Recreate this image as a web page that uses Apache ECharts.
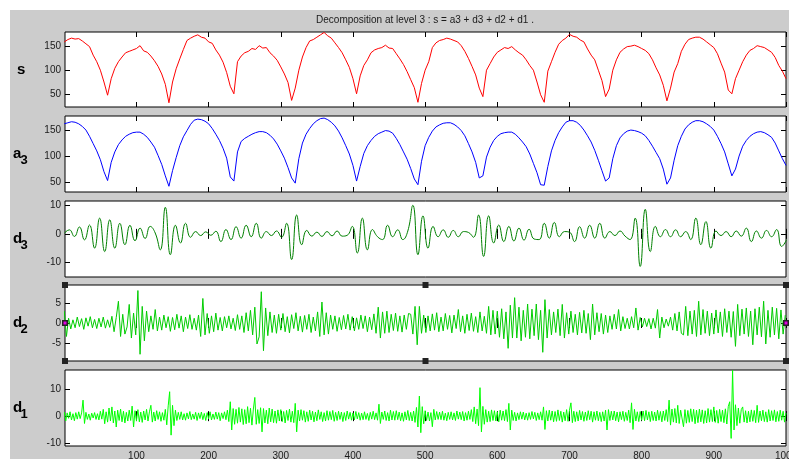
<!DOCTYPE html>
<html>
<head>
<meta charset="utf-8">
<script src="https://cdn.jsdelivr.net/npm/echarts@6/dist/echarts.min.js"></script>
<style>
  html, body { margin: 0; padding: 0; background: #fff; }
  #wrap { position: relative; width: 789px; height: 459px; overflow: hidden; }
  #figure { position: absolute; left: 10px; top: 10px; right: 0; bottom: 0; background: #cccccc; }
  #chart { position: absolute; left: 0; top: 0; width: 789px; height: 459px; }
</style>
</head>
<body>
<div id="wrap"><div id="figure"></div><div id="chart"></div></div>
<script>
// tick labels
const xTicks = [100, 200, 300, 400, 500, 600, 700, 800, 900, 1000]
const sTicks = [50, 100, 150]
const a3Ticks = [50, 100, 150]
const d3Ticks = [-10, 0, 10]
const d2Ticks = [-5, 0, 5]
const d1Ticks = [-10, 0, 10]

// signal s, one value every 5 samples
const sStep = 5
const sValues = [
  160, 165, 168, 166, 167, 162, 156, 150, 132, 118, 100, 75, 47,
  82, 104, 118, 128, 137, 140, 143, 146, 152, 141, 138, 130, 120, 108, 92, 70, 31,
  75, 103, 124, 144, 163, 168, 172, 175, 170, 168, 160, 157, 143, 132, 117, 95, 66, 50,
  118, 130, 137, 140, 146, 144, 152, 147, 148, 137, 130, 121, 107, 92, 74, 36, 62,
  100, 128, 148, 162, 165, 170, 175, 180, 173, 168, 158, 148, 137, 122, 106, 82, 50,
  88, 110, 122, 137, 143, 146, 148, 153, 147, 146, 135, 124, 112, 97, 80, 63, 32,
  72, 100, 118, 148, 158, 163, 165, 168, 166, 163, 160, 152, 140, 125, 108, 90, 62, 44,
  100, 114, 128, 138, 143, 148, 146, 150, 143, 137, 132, 122, 110, 100, 75, 48, 32,
  98, 118, 138, 155, 163, 168, 176, 172, 170, 164, 160, 145, 132, 122, 100, 78, 44, 60,
  100, 122, 138, 145, 150, 151, 153, 150, 146, 142, 135, 122, 105, 90, 68, 35, 62,
  96, 114, 140, 155, 165, 168, 170, 170, 166, 160, 154, 148, 135, 115, 96, 58, 50, 82,
  100, 118, 132, 142, 146, 152, 150, 148, 143, 138, 127, 110, 98, 82
]

// approximation a3, one value every 5 samples
const a3Step = 5
const a3Values = [
  162, 164, 166, 165, 162, 157, 150, 138, 124, 110, 93, 70, 53,
  88, 108, 122, 131, 138, 142, 145, 146, 146, 142, 136, 127, 117, 101, 84, 62, 42,
  72, 97, 120, 137, 149, 161, 169, 171, 170, 167, 162, 153, 142, 130, 115, 96, 60, 52,
  108, 128, 134, 138, 142, 145, 147, 147, 145, 140, 133, 123, 110, 96, 78, 58, 48,
  95, 125, 142, 153, 162, 168, 172, 173, 170, 165, 158, 148, 135, 120, 104, 82, 52,
  80, 105, 120, 130, 138, 143, 146, 149, 148, 144, 134, 122, 108, 94, 76, 56, 45,
  90, 120, 136, 148, 156, 160, 163, 164, 164, 161, 156, 149, 139, 124, 108, 88, 58, 62,
  98, 117, 130, 138, 143, 145, 146, 146, 142, 135, 127, 118, 104, 86, 68, 45, 44,
  80, 110, 130, 145, 156, 165, 168, 168, 165, 159, 150, 139, 127, 111, 92, 72, 52, 58,
  95, 120, 135, 143, 148, 150, 149, 147, 144, 139, 130, 119, 107, 95, 75, 46, 58,
  92, 120, 138, 152, 160, 165, 168, 168, 166, 162, 157, 150, 138, 124, 108, 85, 62, 75,
  100, 119, 130, 138, 143, 146, 147, 145, 141, 136, 125, 110, 95, 82
]

// detail d3, one value every 7 samples
const d3Step = 7
const d3Values = [
  0.2, 1.4, -0.9, 2.4, -2.1, 3.1, -5, 5.5, -6.2, 4.9,
  -5, 3.7, -3.8, 3, -2.4, 2, -1.6, 2.6, 0.3, -5.6,
  9.3, -7.3, 3, -3.2, 3.7, -1.2, 0.8, -0.6, 0.7, -0.5,
  0.9, -2.7, 1.5, -2, 2.5, -1.5, 3, -1, 3.7, -1.5,
  0.8, -0.6, 1, -1.2, 3.7, -9, 6.6, -3.8, 1.2, -0.8,
  0.6, -0.9, 0.8, -0.7, 1, -0.8, -0.5, 2.6, -6.7, 5.5,
  -5.6, 1.5, -1, -2, 3, -1, 1.4, -2, 1, 10,
  -7.3, 6.3, -5, 2.6, -1, 1.4, -1.2, 1.2, -1, 0.8,
  0.5, -1.2, 6.6, -7.9, 6.3, -3.2, 3.1, -2.7, 2.6, -2.5,
  2, -2.2, 1.6, -1.8, -2, 3.7, -1.5, 4, -1, 0.8,
  0.6, -2.7, 2.5, -1.5, 3, -1.5, 3.7, -1.5, 0.8, -0.6,
  1, -0.8, -2, 5.5, -11.4, 8.6, -6.2, 2.6, -1, 1.5,
  -1, 1.4, -1, 0.8, -2, 5.5, -3.8, 4.3, -5, 1,
  -0.6, 0.8, -1, 1, -0.8, 2, -2.7, 1, -1.5, 1.2,
  -1, 1.5, -4.4, -2
]

// detail d2, one value every 3 samples
const d2Step = 3
const d2Values = [
  3, -3.4, 1.2, -1.5, 0.8, -1.2, 1.5, -0.9, 1.1, -1.6,
  1.3, -0.8, 1.6, -1.2, 0.9, -1.4, 1.2, -1, 1.5, -1.3,
  0.8, -1.1, 1.7, -2.2, 1.4, 5.5, -3.4, 2.2, -2.8, -1,
  4.7, -3.8, 2.5, -3, 8.2, -7.9, 4.2, -4.5, 3, -2.2,
  1.8, -1.6, 3.4, -2, 1.5, -1.8, 2, -1.2, 1.6, -2.1,
  1.4, -1.7, 2.2, -1.3, 1.8, -2.2, 1.5, -1.4, 2.1, -1.6,
  1.2, -1.8, 2, -3.4, 6.2, -3, 2.4, -2.6, 1.8, -2.2,
  2.5, -1.8, 1.4, -2, 1.6, -1.2, 1.8, -1.5, 1.2, -1.9,
  2.1, -1.6, 1.8, -2.4, 2.6, -2, 3.2, -3, 4, -5.3,
  -3.5, 7.9, -7, 3.8, -3.2, 2.8, -2.4, 2, -2.6, 2.2,
  -1.8, 2.4, -2.2, 1.6, -2.5, 2.1, -1.4, 2.6, -2, 1.7,
  -2.3, 1.9, -1.6, 2.2, -2.4, 1.5, -2, 2.8, -3.4, 5.3,
  -3, 2.6, -2.8, 2, -1.6, 1.8, -2.1, 1.4, -1.7, 1.9,
  -1.5, 2.2, -1.8, 1.6, -2, 1.3, -1.6, 2, -1.4, 1.8,
  -2.2, 1.5, -1.7, 2.3, -2.6, 4, -3.8, 2.8, -2.6, 3,
  -2.4, 2.2, -1.9, 2.5, -2.1, 1.8, -2.3, 2, -1.6, 2.4,
  2.2, -2.8, 4.2, -5.5, 4.2, -2.6, 2, -2.4, 1.8, -2,
  2.3, -1.8, 2.6, -2.2, 1.5, -2, 2.4, -1.6, 1.9, -2.5,
  2, -1.4, 3.4, -2.2, 1.8, -2.6, 2.2, -1.9, 2.5, -2.1,
  1.6, -2.4, 2.8, -2, 1.7, -2.6, 4.2, -3, 3.2, -2.8,
  3, -3.6, 3.6, -4, 2.8, -6.4, 4.5, -3.8, 6.4, -3.8,
  4, -4.5, 3.2, -3.6, 4.8, -4, 3.5, -3.2, 4.8, -4.2,
  3.2, -7.4, 5.9, -3.8, 3.4, -3, 2.8, -2.4, 3.5, -3.2,
  4.7, -3.8, 2.6, -2.8, 3, -2.4, 2.2, -3, 2.7, -2.5,
  3.2, -2.6, 2.4, -4.2, 4.8, -3, 2.6, -2.2, 2.4, -2.8,
  2, -2.4, 1.8, -1.6, 2.2, -1.5, 3.4, -2, 1.6, -1.4,
  1.2, -1.5, 1.6, -1.2, 3.8, -1.8, 1.4, -1, 1.2, -0.9,
  1.1, -1.5, 1.2, -1.3, 3.4, -3.8, 1.5, -1.2, 1, -0.8,
  1.5, -1.8, 2.4, -2, 2.8, -2.6, -3, 4.2, -3.2, 3,
  -2.8, 3.2, -3.4, 5.5, -3, 3.4, -2.6, 3, -3.2, 2.5,
  -2.8, 3.3, -2.5, 2.8, -3.4, 3.6, -2.4, 3, -3.6, 2.9,
  -5.9, 4.7, -3.2, 3.5, -2.8, 3.8, -3.4, 3, -5.5, 3.6,
  -3, 4, -3.5, 5.5, -5.3, 3.2, -3.6, 4, -3, 3.7,
  -4, 3.3, -2.8, 2
]

// detail d1, one value every 2 samples
const d1Step = 2
const d1Values = [
  1.5, -1.8, 1.2, -0.8, 1.6, -1.4, 0.9, -1.7, 1.3, -1.1,
  1.6, -0.9, 1.2, 5.9, -2.7, 1.4, -1.2, 0.8, -1.5, 1.1,
  -0.7, 1.3, -1.2, 0.9, -1.4, 1.8, -1.1, 2.5, -2.8, 1.6,
  -2.2, 3, -1.8, 3.4, -2.5, 1.9, -4, 2.2, -1.6, 2.6,
  -2.1, 1.8, -2.5, 1.4, -1.8, 2.2, -1.6, 3.7, -4, 2,
  -1.7, 2.4, -2.1, 1.5, -2.3, 1.9, -1.4, 2.5, -1.8, 1.6,
  4, -2.2, 1.5, -1.8, 2, -1.2, 1.6, -1.9, 1.3, -1.5,
  2.5, -3.2, 3.8, 9, -7, 4, -3.5, 2.2, -1.6, 1.4,
  -1.2, 1.6, -1.4, 0.9, -1.5, 1.2, -1, 1.7, -1.3, 0.8,
  -1.1, 1.4, -1.6, 1.2, -0.9, 1.5, -1.3, 1, -1.6, 1.3,
  -1, 1.6, -1.4, 0.8, -1.2, 1.5, -1.1, 1.3, -1.7, 1.2,
  -0.9, 1.6, -1.3, 2.2, -2, 5.3, -5.1, 2.8, -3, 2.5,
  -2.6, 3.2, -2.2, 2.7, -3.1, 2.4, -2.8, 3.5, -2.4, 2.9,
  -3.3, 2.6, 6.9, -3, 2.4, -2.7, 3.1, -5.8, 2.8, -2.5,
  2.2, -2.8, 3, -2.1, 2.6, -2.4, 1.9, -2.6, 2.3, -1.8,
  2.4, -2, 1.7, -2.5, 2.1, -1.6, 2.6, -2.2, 1.8, -2.4,
  4.7, -5.8, 2.2, -1.8, 2.4, -1.5, 2, -2.2, 1.6, -1.9,
  2.2, -1.4, 1.8, -2.1, 1.5, -1.7, 2.3, -1.2, 1.6, -2,
  1.3, -1.8, 2, -1.5, 1.7, -1.3, 2.1, -1.9, 1.4, -1.6,
  1.8, -1.2, 1.5, -2, 1.3, -1.6, 1.9, -1.1, 1.4, -1.5,
  1.2, -1.4, 1.7, -1, 1.3, -1.5, 1.1, -1.3, 1.6, -1.2,
  1, -1.6, 1.4, -1.1, 1.8, -1.3, 1.2, -1.5, 4.4, -2.7,
  1.5, -1.2, 1.9, -1.6, 1.3, -1.8, 2.2, -1.4, 1.7, -1.5,
  2, -1.3, 1.5, -1.7, 1.2, -1.9, 1.6, -1.4, 2.1, -1.6,
  1.4, -1.8, 1.9, -2.3, 3.2, -4, 7.4, -6.1, 3.5, -2.8,
  2, -1.6, 1.5, -1.8, 1.3, -3.9, 2.5, -1.4, 1.7, -1.2,
  1.5, -1.3, 1.8, -1.5, 1.1, -1.7, 1.4, -1.2, 1.6, -1.4,
  1.2, -1.6, 1.9, -1.1, 1.5, -1.3, 1.7, -1.8, 1.3, -1.5,
  1.8, -1.2, 2.4, -2, 3.4, -2.8, 2.6, -3.5, 10.5, -5.8,
  3.6, -3, 2.4, -2.2, 1.8, -2, 2.3, -1.6, 2, -1.8,
  1.6, -2.1, 2.2, -1.5, 1.9, -1.7, 2.4, -2, 4.7, -5.1,
  2.2, -1.6, 1.4, -1.8, 1.2, -1.3, 1.6, -1.1, 1.5, -1.4,
  1.1, -1.5, 1.3, -1.2, 1.7, -1, 1.4, -1.6, 1.2, -1.3,
  1.6, -1.5, 3.4, -4.9, 2, -1.8, 2.2, -1.5, 1.9, -2.1,
  1.7, -1.9, 2.3, -1.6, 1.8, -2.2, 1.5, -1.7, 2.4, -1.9,
  2.2, 4.9, -2.4, 1.8, -2, 1.6, -1.8, 2.1, -1.4, 1.7,
  -1.9, 1.5, -1.6, 2, -1.3, 1.8, -2.2, 1.6, -1.5, 1.9,
  -1.7, 1.4, -2, 1.6, -1.8, 2.2, -5.1, 2.4, -1.6, 1.8,
  -1.4, 1.9, -1.7, 1.5, -2.1, 1.6, -1.3, 1.8, -1.9, 1.4,
  -1.6, 2.2, -2.4, 4.9, -4.9, 2.5, -1.8, 1.6, -2, 1.7,
  -1.5, 1.9, -1.7, 2.1, -1.4, 1.6, -2, 1.8, -1.6, 1.5,
  -1.8, 2.2, -1.5, 1.7, -2.1, 1.9, -1.6, 2.4, -2, 5.9,
  -3.3, 2.6, -2.2, 2.8, -2.5, 4, -2.7, 2.2, 2.5, -3.9,
  2.4, -2.6, 2.1, -2.3, 2.7, -2, 2.5, -2.8, 2.2, -2.4,
  2.6, -2.1, 2.3, -2.7, 2, -2.5, 2.8, -2.2, 2.4, -2,
  3.4, -2.3, 2.1, -2.6, 2.5, -2, 2.2, -2.4, 2.7, -2.9,
  3.5, 5.3, -8.2, 16.9, -5.1, 4.2, -3.5, 3, -2.6, 2.4,
  3.4, -2.2, 2, -2.5, 1.8, -2.1, 2.3, -1.9, 2.1, -2.4,
  4, -2.3, 1.9, -1.7, 2.2, -2, 1.6, -2.2, 2.4, -1.8,
  2, -1.6, 2.3, -2.1, 1.7, -1.9, 2.2, -1.5, 1.8, -2.2,
  1.2
]

const font = 'Liberation Sans, Arial, sans-serif'
const toPoints = (values, step) => values.map((v, i) => [i * step, v])

const panels = [
  { main: 's', sub: '', values: sValues, step: sStep, color: '#ff0000', top: 32, height: 75, min: 22, max: 181, ticks: sTicks, smooth: false },
  { main: 'a', sub: '3', values: a3Values, step: a3Step, color: '#0000ff', top: 116, height: 76, min: 31, max: 177, ticks: a3Ticks, smooth: false },
  { main: 'd', sub: '3', values: d3Values, step: d3Step, color: '#008000', top: 201, height: 76, min: -15.1, max: 11.5, ticks: d3Ticks, smooth: 0.5 },
  { main: 'd', sub: '2', values: d2Values, step: d2Step, color: '#00cc00', top: 285, height: 76, min: -9.6, max: 9.6, ticks: d2Ticks, smooth: false },
  { main: 'd', sub: '1', values: d1Values, step: d1Step, color: '#00ff00', top: 370, height: 76, min: -11, max: 17, ticks: d1Ticks, smooth: false }
]

const tick = (values) => ({
  show: true,
  inside: true,
  length: 5,
  customValues: values,
  lineStyle: { color: '#000', width: 1 }
})

const grids = []
const xAxes = []
const yAxes = []
const series = []
const graphics = []

panels.forEach((p, k) => {
  const last = k === panels.length - 1
  grids.push({
    left: 65, top: p.top, width: 721, height: p.height,
    containLabel: false, outerBoundsMode: 'none',
    show: true, backgroundColor: '#fff', borderColor: '#000', borderWidth: 1
  })
  // bottom + top x axes
  xAxes.push({
    type: 'value', gridIndex: k, min: 1, max: 1000, position: 'bottom',
    axisLine: { show: false }, splitLine: { show: false },
    axisTick: tick(xTicks),
    axisLabel: {
      show: last, customValues: xTicks, margin: 5,
      formatter: (v) => String(v),
      color: '#1a1a1a', fontSize: 10, fontFamily: font
    }
  })
  xAxes.push({
    type: 'value', gridIndex: k, min: 1, max: 1000, position: 'top',
    axisLine: { show: false }, splitLine: { show: false },
    axisTick: tick(xTicks), axisLabel: { show: false }
  })
  // left + right y axes
  yAxes.push({
    type: 'value', gridIndex: k, min: p.min, max: p.max, position: 'left',
    axisLine: { show: false }, splitLine: { show: false },
    axisTick: tick(p.ticks),
    axisLabel: {
      customValues: p.ticks, margin: 4,
      formatter: (v) => String(v),
      color: '#1a1a1a', fontSize: 10, fontFamily: font
    }
  })
  yAxes.push({
    type: 'value', gridIndex: k, min: p.min, max: p.max, position: 'right',
    axisLine: { show: false }, splitLine: { show: false },
    axisTick: tick(p.ticks), axisLabel: { show: false }
  })
  series.push({
    type: 'line',
    xAxisIndex: 2 * k,
    yAxisIndex: 2 * k,
    data: toPoints(p.values, p.step),
    symbol: 'none',
    smooth: p.smooth,
    clip: true,
    silent: true,
    lineStyle: { color: p.color, width: 1 },
    itemStyle: { color: p.color }
  })
  // row label, e.g. a with subscript 3
  const cy = p.top + p.height / 2
  graphics.push({
    type: 'text', x: p.sub ? 13 : 17, y: cy,
    style: { text: p.main, font: 'bold 15px ' + font, fill: '#000', verticalAlign: 'middle' }
  })
  if (p.sub) {
    graphics.push({
      type: 'text', x: 20.5, y: cy + 6,
      style: { text: p.sub, font: 'bold 13px ' + font, fill: '#000', verticalAlign: 'middle' }
    })
  }
})

// title
graphics.push({
  type: 'text', x: 425, y: 20,
  style: {
    text: 'Decomposition at level 3 : s = a3 + d3 + d2 + d1 .',
    font: '10px ' + font, fill: '#1a1a1a', align: 'center', verticalAlign: 'middle'
  }
})

// selection handles around the d2 axes
const sel = grids[3]
const hx = [sel.left, sel.left + sel.width / 2, sel.left + sel.width]
const hy = [sel.top, sel.top + sel.height / 2, sel.top + sel.height]
hy.forEach((y, r) => {
  hx.forEach((x, c) => {
    if (r === 1 && c === 1) return
    graphics.push({
      type: 'rect', shape: { x: x - 3, y: y - 3, width: 6, height: 6 },
      style: { fill: '#222' }, z: 100
    })
    if (r === 1) {
      graphics.push({
        type: 'rect', shape: { x: x - 1.5, y: y - 1.5, width: 3, height: 3 },
        style: { fill: '#e000e0' }, z: 101
      })
    }
  })
})

const chart = echarts.init(document.getElementById('chart'))
chart.setOption({
  animation: false,
  grid: grids,
  xAxis: xAxes,
  yAxis: yAxes,
  series: series,
  graphic: graphics
})
window.onresize = () => {
  chart.resize()
}
</script>
</body>
</html>
